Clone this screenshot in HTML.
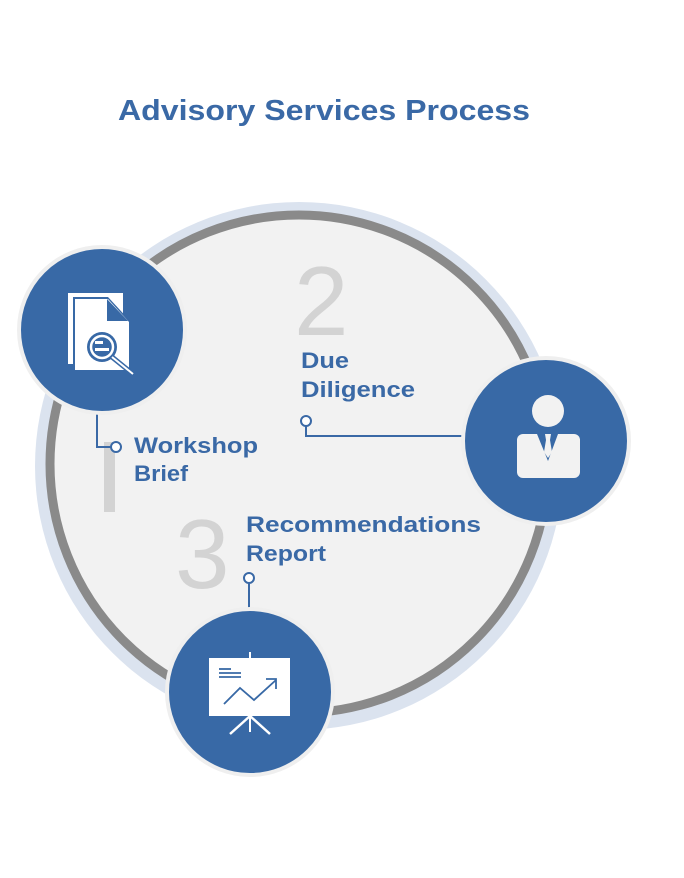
<!DOCTYPE html>
<html><head><meta charset="utf-8"><style>
html,body{margin:0;padding:0;background:#fff;}
svg{display:block;}
text{font-family:"Liberation Sans",sans-serif;}
</style></head><body>
<svg width="684" height="878" viewBox="0 0 684 878" xmlns="http://www.w3.org/2000/svg">
<rect width="684" height="878" fill="#fff"/>
<text x="118" y="120" font-size="29" font-weight="bold" fill="#3a69a6" textLength="412" lengthAdjust="spacingAndGlyphs">Advisory Services Process</text>
<circle cx="299" cy="466" r="264" fill="#dbe3ef"/>
<circle cx="299" cy="464" r="249" fill="#f2f2f2" stroke="#8a8a8a" stroke-width="9"/>
<!-- numbers -->
<rect x="104" y="442" width="11" height="70" fill="#d3d3d3"/>
<text x="294" y="335" font-size="98" fill="#d3d3d3">2</text>
<text x="175" y="588" font-size="98" fill="#d3d3d3">3</text>
<!-- connectors -->
<g stroke="#3a69a6" stroke-width="2" fill="none">
<polyline points="97,410 97,447 111,447"/>
<polyline points="306,426 306,436 466,436"/>
<line x1="249" y1="583" x2="249" y2="612"/>
</g>
<g stroke="#3a69a6" stroke-width="2" fill="#fff">
<circle cx="116" cy="447" r="5"/>
<circle cx="306" cy="421" r="5"/>
<circle cx="249" cy="578" r="5"/>
</g>
<!-- labels -->
<g font-size="22" font-weight="bold" fill="#3a69a6" lengthAdjust="spacingAndGlyphs">
<text x="134" y="453" textLength="124" lengthAdjust="spacingAndGlyphs">Workshop</text>
<text x="134" y="481" textLength="54" lengthAdjust="spacingAndGlyphs">Brief</text>
<text x="301" y="368" textLength="48" lengthAdjust="spacingAndGlyphs">Due</text>
<text x="301" y="397" textLength="114" lengthAdjust="spacingAndGlyphs">Diligence</text>
<text x="246" y="532" textLength="235" lengthAdjust="spacingAndGlyphs">Recommendations</text>
<text x="246" y="561" textLength="80" lengthAdjust="spacingAndGlyphs">Report</text>
</g>
<!-- icon circles -->
<g fill="#3869a6" stroke="#efefef" stroke-width="4">
<circle cx="102" cy="330" r="83"/>
<circle cx="546" cy="441" r="83"/>
<circle cx="250" cy="692" r="83"/>
</g>
<!-- doc icon -->
<rect x="68" y="293" width="55" height="71" fill="#fff"/>
<polygon points="73,297 108,297 131,322 131,372 73,372" fill="#3869a6"/>
<polygon points="75,299 108,299 129,322 129,370 75,370" fill="#fff"/>
<polygon points="107,299 107,321 128,321" fill="#3869a6"/>
<circle cx="102" cy="347" r="15" fill="#3869a6"/>
<circle cx="102" cy="347" r="11" fill="none" stroke="#fff" stroke-width="2.5"/>
<rect x="95" y="341" width="8" height="3" fill="#fff"/><rect x="95" y="348" width="14" height="3" fill="#fff"/>
<line x1="112" y1="357" x2="133" y2="374" stroke="#3869a6" stroke-width="5"/>
<line x1="112" y1="357" x2="133" y2="374" stroke="#fff" stroke-width="2"/>
<!-- person icon -->
<circle cx="548" cy="411" r="16" fill="#f2f2f2"/>
<rect x="517" y="434" width="63" height="44" rx="6" fill="#f2f2f2"/>
<polygon points="537,434 558,434 548,461" fill="#3869a6"/>
<polygon points="545,434 551,434 550,440 552,452 548,458 544,452 546,440" fill="#f2f2f2"/>
<!-- presentation icon -->
<line x1="250" y1="652" x2="250" y2="732" stroke="#fff" stroke-width="2"/>
<rect x="209" y="658" width="81" height="58" fill="#fff"/>
<line x1="230" y1="734" x2="250" y2="716" stroke="#fff" stroke-width="2.5"/>
<line x1="270" y1="734" x2="250" y2="716" stroke="#fff" stroke-width="2.5"/>
<g stroke="#3869a6" stroke-width="1.8" fill="none">
<line x1="219" y1="669" x2="231" y2="669"/><line x1="219" y1="673" x2="241" y2="673"/><line x1="219" y1="677" x2="241" y2="677"/>
<polyline points="224,704 240,688 254,700 276,680"/>
<polyline points="266,679 276,679 276,689"/>
</g>
</svg>
</body></html>
